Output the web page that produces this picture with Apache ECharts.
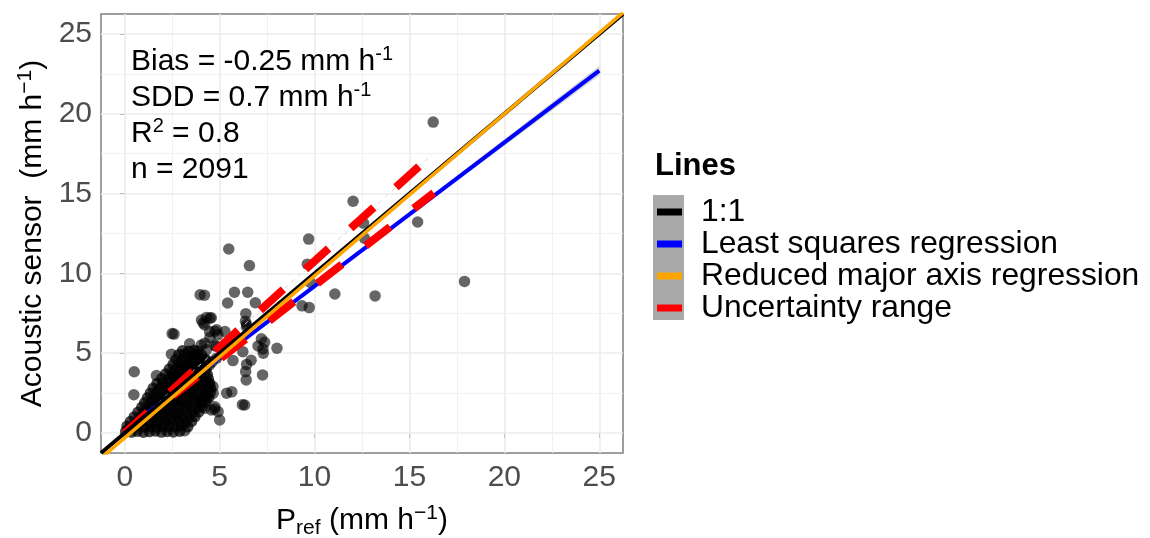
<!DOCTYPE html>
<html>
<head>
<meta charset="utf-8">
<script src="https://cdn.jsdelivr.net/npm/echarts@6/dist/echarts.min.js"></script>
<style>
  html, body { margin: 0; padding: 0; background: #fff; }
  #chart { width: 1150px; height: 538px; }
</style>
</head>
<body>
<div id="chart"></div>
<script>
// axis ticks (major + minor grid)
const xTicks = [0, 5, 10, 15, 20, 25]
const yTicks = [0, 5, 10, 15, 20, 25]
const minorTicks = [2.5, 7.5, 12.5, 17.5, 22.5]

// dense cloud near the origin
const clusterPoints = [
  [0.05, 0.1], [0.36, 0.06], [0.67, 0.12], [0.98, 0.05], [1.3, 0.09], [1.61, 0.13], [1.93, 0.06], [2.24, 0.1], [2.56, 0.07], [2.9, 0.12],
  [0.12, 0.42], [0.43, 0.37], [0.75, 0.44], [1.06, 0.39], [1.38, 0.41], [1.7, 0.36], [2.02, 0.43], [2.34, 0.4], [2.66, 0.38], [2.98, 0.44], [3.32, 0.39],
  [0.3, 0.72], [0.62, 0.68], [0.93, 0.74], [1.25, 0.7], [1.57, 0.66], [1.89, 0.73], [2.21, 0.69], [2.53, 0.75], [2.85, 0.7], [3.18, 0.67], [3.52, 0.73],
  [0.5, 1.01], [0.81, 0.97], [1.13, 1.04], [1.45, 1.0], [1.77, 0.96], [2.09, 1.03], [2.41, 0.99], [2.73, 1.05], [3.05, 1.01], [3.38, 0.97], [3.7, 1.03],
  [0.7, 1.3], [1.01, 1.34], [1.33, 1.28], [1.65, 1.33], [1.97, 1.29], [2.29, 1.35], [2.61, 1.31], [2.93, 1.27], [3.25, 1.33], [3.58, 1.29], [3.9, 1.32],
  [0.9, 1.61], [1.21, 1.57], [1.53, 1.63], [1.85, 1.6], [2.17, 1.56], [2.49, 1.62], [2.81, 1.59], [3.13, 1.64], [3.45, 1.6], [3.77, 1.57], [4.05, 1.63],
  [1.05, 1.9], [1.37, 1.94], [1.69, 1.88], [2.01, 1.93], [2.33, 1.89], [2.65, 1.95], [2.97, 1.91], [3.29, 1.87], [3.61, 1.93], [3.93, 1.9], [4.25, 1.94],
  [1.2, 2.21], [1.52, 2.17], [1.84, 2.23], [2.16, 2.2], [2.48, 2.16], [2.8, 2.22], [3.12, 2.19], [3.44, 2.24], [3.76, 2.2], [4.1, 2.17], [4.43, 2.23],
  [1.35, 2.5], [1.67, 2.54], [1.99, 2.48], [2.31, 2.53], [2.63, 2.49], [2.95, 2.55], [3.27, 2.51], [3.59, 2.47], [3.91, 2.53], [4.23, 2.5], [4.5, 2.54],
  [1.5, 2.81], [1.82, 2.77], [2.14, 2.83], [2.46, 2.8], [2.78, 2.76], [3.1, 2.82], [3.42, 2.79], [3.74, 2.84], [4.06, 2.8], [4.38, 2.77], [4.52, 2.83],
  [1.7, 3.1], [2.02, 3.14], [2.34, 3.08], [2.66, 3.13], [2.98, 3.09], [3.3, 3.15], [3.62, 3.11], [3.94, 3.07], [4.26, 3.13], [4.45, 3.1],
  [1.95, 3.41], [2.27, 3.37], [2.59, 3.43], [2.91, 3.4], [3.23, 3.36], [3.55, 3.42], [3.87, 3.39], [4.19, 3.44], [4.4, 3.4],
  [2.15, 3.7], [2.47, 3.74], [2.79, 3.68], [3.11, 3.73], [3.43, 3.69], [3.75, 3.75], [4.07, 3.71], [4.35, 3.67],
  [2.35, 4.01], [2.67, 3.97], [2.99, 4.03], [3.31, 4.0], [3.63, 3.96], [3.95, 4.02], [4.28, 3.99],
  [2.55, 4.3], [2.87, 4.34], [3.19, 4.28], [3.51, 4.33], [3.83, 4.29], [4.15, 4.35],
  [2.7, 4.61], [3.02, 4.57], [3.34, 4.63], [3.66, 4.6], [3.98, 4.56], [4.2, 4.62],
  [2.85, 4.9], [3.17, 4.94], [3.49, 4.88], [3.81, 4.93], [4.05, 4.89],
  [3.05, 5.16], [3.37, 5.12], [3.65, 5.18], [3.85, 5.14],
  [0.2, 0.25], [0.55, 0.55], [0.85, 0.85], [1.15, 1.2], [1.45, 1.5], [1.8, 1.75], [2.1, 2.05], [2.4, 2.35], [2.7, 2.65],
  [3.0, 2.95], [3.3, 3.25], [3.6, 3.55], [3.9, 3.85], [2.6, 3.55], [2.9, 3.85], [3.2, 4.15], [3.5, 4.45], [3.75, 4.75]
]

// individually visible points
const scatteredPoints = [
  [16.25, 19.48], [12.03, 14.52], [15.43, 13.22], [17.9, 9.5], [9.69, 12.15], [12.58, 13.15], [12.63, 12.2],
  [9.62, 10.58], [9.78, 9.43], [11.07, 8.71], [13.19, 8.59], [9.34, 7.97], [9.72, 7.86],
  [5.48, 11.53], [6.57, 10.49],
  [4.2, 8.63], [5.78, 8.82], [6.48, 8.82], [5.42, 8.15], [6.88, 8.16], [3.97, 8.66],
  [6.38, 7.48], [6.36, 7.0], [6.42, 6.8], [6.42, 6.62],
  [4.3, 7.24], [4.56, 7.22], [4.04, 7.08], [4.13, 6.9], [4.21, 6.78], [4.47, 6.36], [4.75, 6.38], [5.28, 6.36],
  [4.91, 6.15], [4.49, 5.98], [4.22, 5.63], [4.04, 5.52], [3.42, 5.59], [4.3, 5.21], [4.82, 5.42], [4.75, 5.5],
  [2.5, 6.23], [2.6, 6.2], [4.49, 7.2], [4.84, 6.47], [4.84, 4.69], [4.6, 4.45],
  [7.2, 5.9], [7.37, 5.68], [7.28, 5.27], [7.3, 5.0], [8.02, 5.31], [7.02, 5.45], [6.22, 5.1],
  [5.7, 4.54], [6.66, 4.56], [6.42, 4.3], [6.37, 3.85], [6.4, 3.33], [7.26, 3.64],
  [5.37, 2.5], [5.64, 2.58], [6.2, 1.78], [6.32, 1.76],
  [4.3, 2.28], [4.04, 1.86], [4.75, 1.65], [4.92, 1.34], [4.47, 3.12], [4.65, 2.91], [4.66, 2.49], [4.31, 2.07],
  [4.56, 1.44], [4.73, 1.5], [4.21, 1.55], [5.0, 0.82], [3.16, 0.15],
  [0.5, 3.84], [0.48, 2.4], [1.67, 3.6], [2.46, 4.94], [4.3, 4.58], [4.47, 4.27]
]

// lines
const oneX = [-1.25, 26.25]
const oneY = [-1.25, 26.25]
const lsX = [0, 25]
const lsY = [0.2, 22.7]
const rmaX = [-1.25, 26.25]
const rmaY = [-1.57, 26.34]
const upX = [0, 16.2]
const upY = [0, 17.45]
const lowX = [0, 16.28]
const lowY = [0, 15.04]
// confidence band of the least squares fit
const ciX = [0, 5, 10, 15, 20, 25]
const ciLow = [0.12, 4.66, 9.16, 13.6, 18.0, 22.4]
const ciHigh = [0.28, 4.74, 9.24, 13.8, 18.4, 23.0]

const lineNames = ['1:1', 'Least squares regression', 'Reduced major axis regression', 'Uncertainty range']
const lineColors = ['#000000', '#0000FF', '#FFA500', '#FF0000']

const statsText = [
  '{t|Bias = -0.25 mm h}{s|-1}',
  '{t|SDD = 0.7 mm h}{s|-1}',
  '{t|R}{s|2}{t| = 0.8}',
  '{t|n = 2091}'
].join('\n')

const FONT = "'Liberation Sans', Arial, Helvetica, sans-serif"
const pairs = (xs, ys) => xs.map((x, i) => [x, ys[i]])

const majorLine = { color: '#EBEBEB', width: 1.6, type: 'solid' }
const minorLine = { color: '#EFEFEF', width: 0.9, type: 'solid' }
const gridLines = []
xTicks.forEach(v => gridLines.push({ xAxis: v, lineStyle: majorLine }))
yTicks.forEach(v => gridLines.push({ yAxis: v, lineStyle: majorLine }))
minorTicks.forEach(v => {
  gridLines.push({ xAxis: v, lineStyle: minorLine })
  gridLines.push({ yAxis: v, lineStyle: minorLine })
})

const nameRich = {
  b: { fontSize: 30, lineHeight: 36, color: '#000', fontFamily: FONT },
  sub: { fontSize: 21, lineHeight: 18, verticalAlign: 'bottom', color: '#000', fontFamily: FONT },
  sup: { fontSize: 21, lineHeight: 14, verticalAlign: 'top', color: '#000', fontFamily: FONT }
}

function axisCommon(ticks) {
  return {
    type: 'value',
    min: -1.25,
    max: 26.25,
    axisLine: { show: false },
    axisTick: { show: true, length: 5, customValues: ticks, lineStyle: { color: '#333333', width: 1 } },
    axisLabel: { customValues: ticks, fontSize: 30, lineHeight: 30, color: '#4D4D4D', fontFamily: FONT },
    splitLine: { show: false },
    nameLocation: 'middle',
    nameMoveOverlap: false,
    nameTextStyle: { rich: nameRich }
  }
}

const xAxis = axisCommon(xTicks)
xAxis.axisLabel.margin = 10
xAxis.name = '{b|P}{sub|ref}{b| (mm h}{sup|−1}{b|)}'
xAxis.nameGap = 50

const yAxis = axisCommon(yTicks)
yAxis.axisLabel.margin = 9
yAxis.name = '{b|Acoustic sensor  (mm h}{sup|−1}{b|)}'
yAxis.nameRotate = 90
yAxis.nameGap = 50

const lineSeries = (name, xs, ys, color, width, type) => ({
  name: name,
  type: 'line',
  data: pairs(xs, ys),
  symbol: 'none',
  showSymbol: false,
  silent: true,
  clip: true,
  itemStyle: { color: color },
  lineStyle: { color: color, width: width, type: type || 'solid', cap: 'butt' }
})

const option = {
  animation: false,
  backgroundColor: '#ffffff',
  textStyle: { fontFamily: FONT },
  grid: {
    left: 101, right: 527, top: 14, bottom: 85,
    show: true, borderColor: '#7f7f7f', borderWidth: 1.5,
    containLabel: false, outerBoundsMode: 'none'
  },
  title: {
    text: 'Lines', left: 655, top: 151, padding: 0,
    textStyle: { fontSize: 31, lineHeight: 31, fontWeight: 'bold', color: '#000', fontFamily: FONT }
  },
  legend: {
    data: lineNames,
    orient: 'vertical',
    left: 657, top: 196, padding: 0, itemGap: 0,
    itemWidth: 25, itemHeight: 7, icon: 'rect',
    itemStyle: { borderWidth: 0 },
    selectedMode: false,
    textStyle: { fontSize: 31.8, lineHeight: 31, color: '#000', fontFamily: FONT, padding: [0, 0, 0, 14] }
  },
  xAxis: xAxis,
  yAxis: yAxis,
  graphic: [
    { type: 'rect', left: 653, top: 195, z: 1, shape: { width: 31, height: 125 }, style: { fill: '#A9A9A9' } },
    {
      type: 'text', left: 131, top: 44, z: 10,
      style: {
        text: statsText,
        rich: {
          t: { fontSize: 30, lineHeight: 36, fill: '#000', fontFamily: FONT },
          s: { fontSize: 20, lineHeight: 26, verticalAlign: 'top', fill: '#000', fontFamily: FONT }
        }
      }
    }
  ],
  series: [
    {
      name: 'grid', type: 'line', data: [], silent: true,
      markLine: { z: 1, silent: true, symbol: ['none', 'none'], label: { show: false }, animation: false, data: gridLines }
    },
    {
      // the cloud is hundreds of overlapping points, so it reads as near-solid black
      name: 'cluster', type: 'scatter', silent: true,
      data: clusterPoints,
      symbolSize: 11.5,
      itemStyle: { color: 'rgba(0,0,0,0.9)' }
    },
    {
      name: 'points', type: 'scatter', silent: true,
      data: scatteredPoints,
      symbolSize: 11.5,
      itemStyle: { color: 'rgba(0,0,0,0.75)' }
    },
    {
      name: 'ci', type: 'custom', silent: true, data: [[0, 0]],
      renderItem: (params, api) => {
        const lo = ciX.map((x, i) => api.coord([x, ciLow[i]]))
        const hi = ciX.map((x, i) => api.coord([x, ciHigh[i]])).reverse()
        return { type: 'polygon', shape: { points: lo.concat(hi) }, style: { fill: 'rgba(153,153,153,0.4)' } }
      }
    },
    lineSeries(lineNames[1], lsX, lsY, lineColors[1], 4),
    lineSeries('upper guide', upX, upY, '#d6d6d6', 1, [4, 5]),
    lineSeries(lineNames[3], upX, upY, lineColors[3], 8, [31, 30]),
    lineSeries(lineNames[3], lowX, lowY, lineColors[3], 8, [31, 30]),
    lineSeries(lineNames[0], oneX, oneY, lineColors[0], 4),
    lineSeries(lineNames[2], rmaX, rmaY, lineColors[2], 3.5)
  ]
}

const mychart = echarts.init(document.getElementById('chart'))
mychart.setOption(option)
</script>
</body>
</html>
